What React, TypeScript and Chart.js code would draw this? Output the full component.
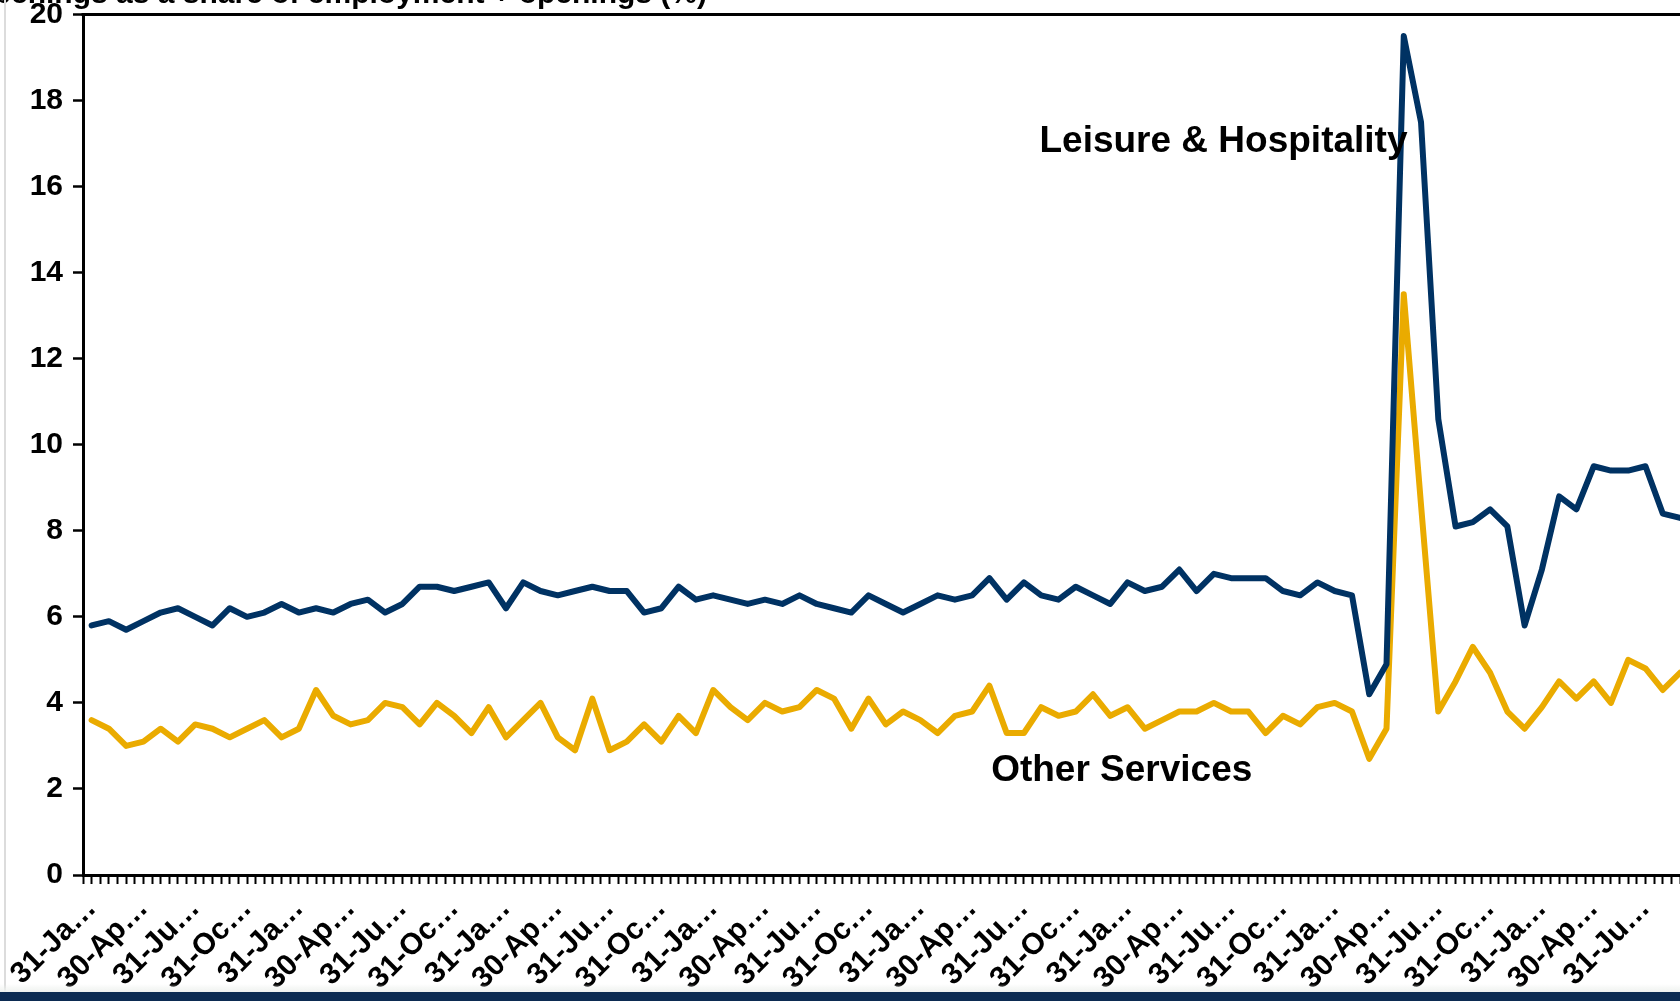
import React, { useEffect, useRef } from "react";
import { Chart, registerables } from "chart.js";

Chart.register(...registerables);

// Month-end observation dates (one per data point)
const months: string[] = [
  "31-Jan-2014", "28-Feb-2014", "31-Mar-2014", "30-Apr-2014", "31-May-2014", "30-Jun-2014", "31-Jul-2014", "31-Aug-2014", "30-Sep-2014", "31-Oct-2014", "30-Nov-2014", "31-Dec-2014",
  "31-Jan-2015", "28-Feb-2015", "31-Mar-2015", "30-Apr-2015", "31-May-2015", "30-Jun-2015", "31-Jul-2015", "31-Aug-2015", "30-Sep-2015", "31-Oct-2015", "30-Nov-2015", "31-Dec-2015",
  "31-Jan-2016", "29-Feb-2016", "31-Mar-2016", "30-Apr-2016", "31-May-2016", "30-Jun-2016", "31-Jul-2016", "31-Aug-2016", "30-Sep-2016", "31-Oct-2016", "30-Nov-2016", "31-Dec-2016",
  "31-Jan-2017", "28-Feb-2017", "31-Mar-2017", "30-Apr-2017", "31-May-2017", "30-Jun-2017", "31-Jul-2017", "31-Aug-2017", "30-Sep-2017", "31-Oct-2017", "30-Nov-2017", "31-Dec-2017",
  "31-Jan-2018", "28-Feb-2018", "31-Mar-2018", "30-Apr-2018", "31-May-2018", "30-Jun-2018", "31-Jul-2018", "31-Aug-2018", "30-Sep-2018", "31-Oct-2018", "30-Nov-2018", "31-Dec-2018",
  "31-Jan-2019", "28-Feb-2019", "31-Mar-2019", "30-Apr-2019", "31-May-2019", "30-Jun-2019", "31-Jul-2019", "31-Aug-2019", "30-Sep-2019", "31-Oct-2019", "30-Nov-2019", "31-Dec-2019",
  "31-Jan-2020", "29-Feb-2020", "31-Mar-2020", "30-Apr-2020", "31-May-2020", "30-Jun-2020", "31-Jul-2020", "31-Aug-2020", "30-Sep-2020", "31-Oct-2020", "30-Nov-2020", "31-Dec-2020",
  "31-Jan-2021", "28-Feb-2021", "31-Mar-2021", "30-Apr-2021", "31-May-2021", "30-Jun-2021", "31-Jul-2021", "31-Aug-2021", "30-Sep-2021",
];

// Quarterly tick labels shown on the axis (truncated in the chart)
const tickLabels: string[] = [
  "31-Jan-2014", "30-Apr-2014", "31-Jul-2014", "31-Oct-2014",
  "31-Jan-2015", "30-Apr-2015", "31-Jul-2015", "31-Oct-2015",
  "31-Jan-2016", "30-Apr-2016", "31-Jul-2016", "31-Oct-2016",
  "31-Jan-2017", "30-Apr-2017", "31-Jul-2017", "31-Oct-2017",
  "31-Jan-2018", "30-Apr-2018", "31-Jul-2018", "31-Oct-2018",
  "31-Jan-2019", "30-Apr-2019", "31-Jul-2019", "31-Oct-2019",
  "31-Jan-2020", "30-Apr-2020", "31-Jul-2020", "31-Oct-2020",
  "31-Jan-2021", "30-Apr-2021", "31-Jul-2021",
];

const leisureHospitality: number[] = [
  5.8, 5.9, 5.7, 5.9, 6.1, 6.2, 6.0, 5.8, 6.2, 6.0, 6.1, 6.3,
  6.1, 6.2, 6.1, 6.3, 6.4, 6.1, 6.3, 6.7, 6.7, 6.6, 6.7, 6.8,
  6.2, 6.8, 6.6, 6.5, 6.6, 6.7, 6.6, 6.6, 6.1, 6.2, 6.7, 6.4,
  6.5, 6.4, 6.3, 6.4, 6.3, 6.5, 6.3, 6.2, 6.1, 6.5, 6.3, 6.1,
  6.3, 6.5, 6.4, 6.5, 6.9, 6.4, 6.8, 6.5, 6.4, 6.7, 6.5, 6.3,
  6.8, 6.6, 6.7, 7.1, 6.6, 7.0, 6.9, 6.9, 6.9, 6.6, 6.5, 6.8,
  6.6, 6.5, 4.2, 4.9, 19.5, 17.5, 10.6, 8.1, 8.2, 8.5, 8.1, 5.8,
  7.1, 8.8, 8.5, 9.5, 9.4, 9.4, 9.5, 8.4, 8.3,
];

const otherServices: number[] = [
  3.6, 3.4, 3.0, 3.1, 3.4, 3.1, 3.5, 3.4, 3.2, 3.4, 3.6, 3.2,
  3.4, 4.3, 3.7, 3.5, 3.6, 4.0, 3.9, 3.5, 4.0, 3.7, 3.3, 3.9,
  3.2, 3.6, 4.0, 3.2, 2.9, 4.1, 2.9, 3.1, 3.5, 3.1, 3.7, 3.3,
  4.3, 3.9, 3.6, 4.0, 3.8, 3.9, 4.3, 4.1, 3.4, 4.1, 3.5, 3.8,
  3.6, 3.3, 3.7, 3.8, 4.4, 3.3, 3.3, 3.9, 3.7, 3.8, 4.2, 3.7,
  3.9, 3.4, 3.6, 3.8, 3.8, 4.0, 3.8, 3.8, 3.3, 3.7, 3.5, 3.9,
  4.0, 3.8, 2.7, 3.4, 13.5, 8.6, 3.8, 4.5, 5.3, 4.7, 3.8, 3.4,
  3.9, 4.5, 4.1, 4.5, 4.0, 5.0, 4.8, 4.3, 4.7,
];

const seriesNames: string[] = ["Leisure & Hospitality", "Other Services"];
const yTickValues: number[] = [0, 2, 4, 6, 8, 10, 12, 14, 16, 18, 20];
const chartTitle = "Job openings as a share of employment + openings (%)";

const FONT = "'Liberation Sans', Arial, Helvetica, sans-serif";

function shortLabel(s: string): string {
  return s.slice(0, 5) + "\u2026";
}

const overlayPlugin = {
  id: "overlay",
  afterDraw(chart: any) {
    const { ctx, chartArea, scales } = chart;
    ctx.save();
    // top frame line
    ctx.strokeStyle = "#000";
    ctx.lineWidth = 3;
    ctx.beginPath();
    ctx.moveTo(chartArea.left - 1.5, chartArea.top);
    ctx.lineTo(chartArea.right, chartArea.top);
    ctx.stroke();
    // title (partly above the visible area)
    ctx.fillStyle = "#000";
    ctx.font = `bold 30px ${FONT}`;
    ctx.textAlign = "right";
    ctx.textBaseline = "alphabetic";
    ctx.fillText(chartTitle, 707, 3);
    // series annotations
    ctx.font = `bold 37px ${FONT}`;
    ctx.textAlign = "left";
    ctx.fillText(seriesNames[0], scales.x.getPixelForValue(54.9), scales.y.getPixelForValue(16.8));
    ctx.fillText(seriesNames[1], scales.x.getPixelForValue(52.1), scales.y.getPixelForValue(2.18));
    ctx.restore();
  },
};

export default function App() {
  const canvasRef = useRef<HTMLCanvasElement | null>(null);

  useEffect(() => {
    document.body.style.overflow = "hidden";
    const canvas = canvasRef.current;
    if (!canvas) return;
    const lastIndex = months.length - 1;
    const chart = new Chart(canvas, {
      type: "line",
      data: {
        datasets: [
          {
            label: seriesNames[0],
            data: leisureHospitality.map((y, i) => ({ x: i, y })),
            borderColor: "#003263",
            backgroundColor: "#003263",
            borderWidth: 6,
            pointRadius: 0,
            tension: 0,
            borderJoinStyle: "round",
            borderCapStyle: "round",
          },
          {
            label: seriesNames[1],
            data: otherServices.map((y, i) => ({ x: i, y })),
            borderColor: "#EAAB00",
            backgroundColor: "#EAAB00",
            borderWidth: 6,
            pointRadius: 0,
            tension: 0,
            borderJoinStyle: "round",
            borderCapStyle: "round",
          },
        ],
      },
      options: {
        animation: false,
        responsive: false,
        devicePixelRatio: 1,
        layout: { padding: { top: 14.5, left: 0, right: 0, bottom: 0 } },
        plugins: {
          legend: { display: false },
          tooltip: { enabled: false },
          title: { display: false },
        },
        scales: {
          x: {
            type: "linear",
            min: -0.5,
            max: lastIndex,
            afterBuildTicks: (scale: any) => {
              const t: { value: number }[] = [];
              for (let i = -1; i <= lastIndex * 2; i++) t.push({ value: i / 2 });
              scale.ticks = t;
            },
            afterFit: (scale: any) => {
              scale.height = 126;
              scale.paddingLeft = 0;
              scale.paddingRight = 0;
            },
            ticks: {
              autoSkip: false,
              maxRotation: 45,
              minRotation: 45,
              padding: 7,
              color: "#000",
              font: { family: FONT, size: 30, weight: "bold" },
              callback: (value: any) => {
                const k = Number(value);
                if (Number.isInteger(k) && k % 3 === 0) {
                  const lbl = tickLabels[k / 3];
                  return lbl ? shortLabel(lbl) : "";
                }
                return "";
              },
            },
            grid: {
              display: true,
              drawOnChartArea: false,
              drawTicks: true,
              tickLength: 9,
              tickWidth: 2,
              tickColor: "#000",
              color: "#000",
            },
            border: { display: true, color: "#000", width: 3 },
          },
          y: {
            type: "linear",
            min: 0,
            max: 20,
            afterBuildTicks: (scale: any) => {
              scale.ticks = yTickValues.map((v) => ({ value: v }));
            },
            afterFit: (scale: any) => {
              scale.width = 83;
              scale.paddingTop = 0;
              scale.paddingBottom = 0;
            },
            ticks: {
              padding: 10,
              color: "#000",
              font: { family: FONT, size: 30, weight: "bold" },
              callback: (value: any) => String(value),
            },
            grid: {
              display: true,
              drawOnChartArea: false,
              drawTicks: true,
              tickLength: 10,
              tickWidth: 2.5,
              tickColor: "#000",
              color: "#000",
            },
            border: { display: true, color: "#000", width: 3 },
          },
        },
      },
      plugins: [overlayPlugin],
    } as any);
    return () => {
      chart.destroy();
    };
  }, []);

  return (
    <div style={{ position: "absolute", left: 0, top: 0, width: 1680, height: 1001, overflow: "hidden", background: "#fff" }}>
      <canvas ref={canvasRef} width={1680} height={1001} style={{ display: "block", width: 1680, height: 1001 }} />
      <div style={{ position: "absolute", left: 4, top: 0, width: 2, height: 992, background: "#dcdcdc" }} />
      <div style={{ position: "absolute", left: 0, top: 984, width: 1680, height: 8, background: "linear-gradient(rgba(255,255,255,0), #eef1ee)" }} />
      <div style={{ position: "absolute", left: 0, top: 992, width: 1680, height: 9, background: "#0c2b52" }} />
    </div>
  );
}
